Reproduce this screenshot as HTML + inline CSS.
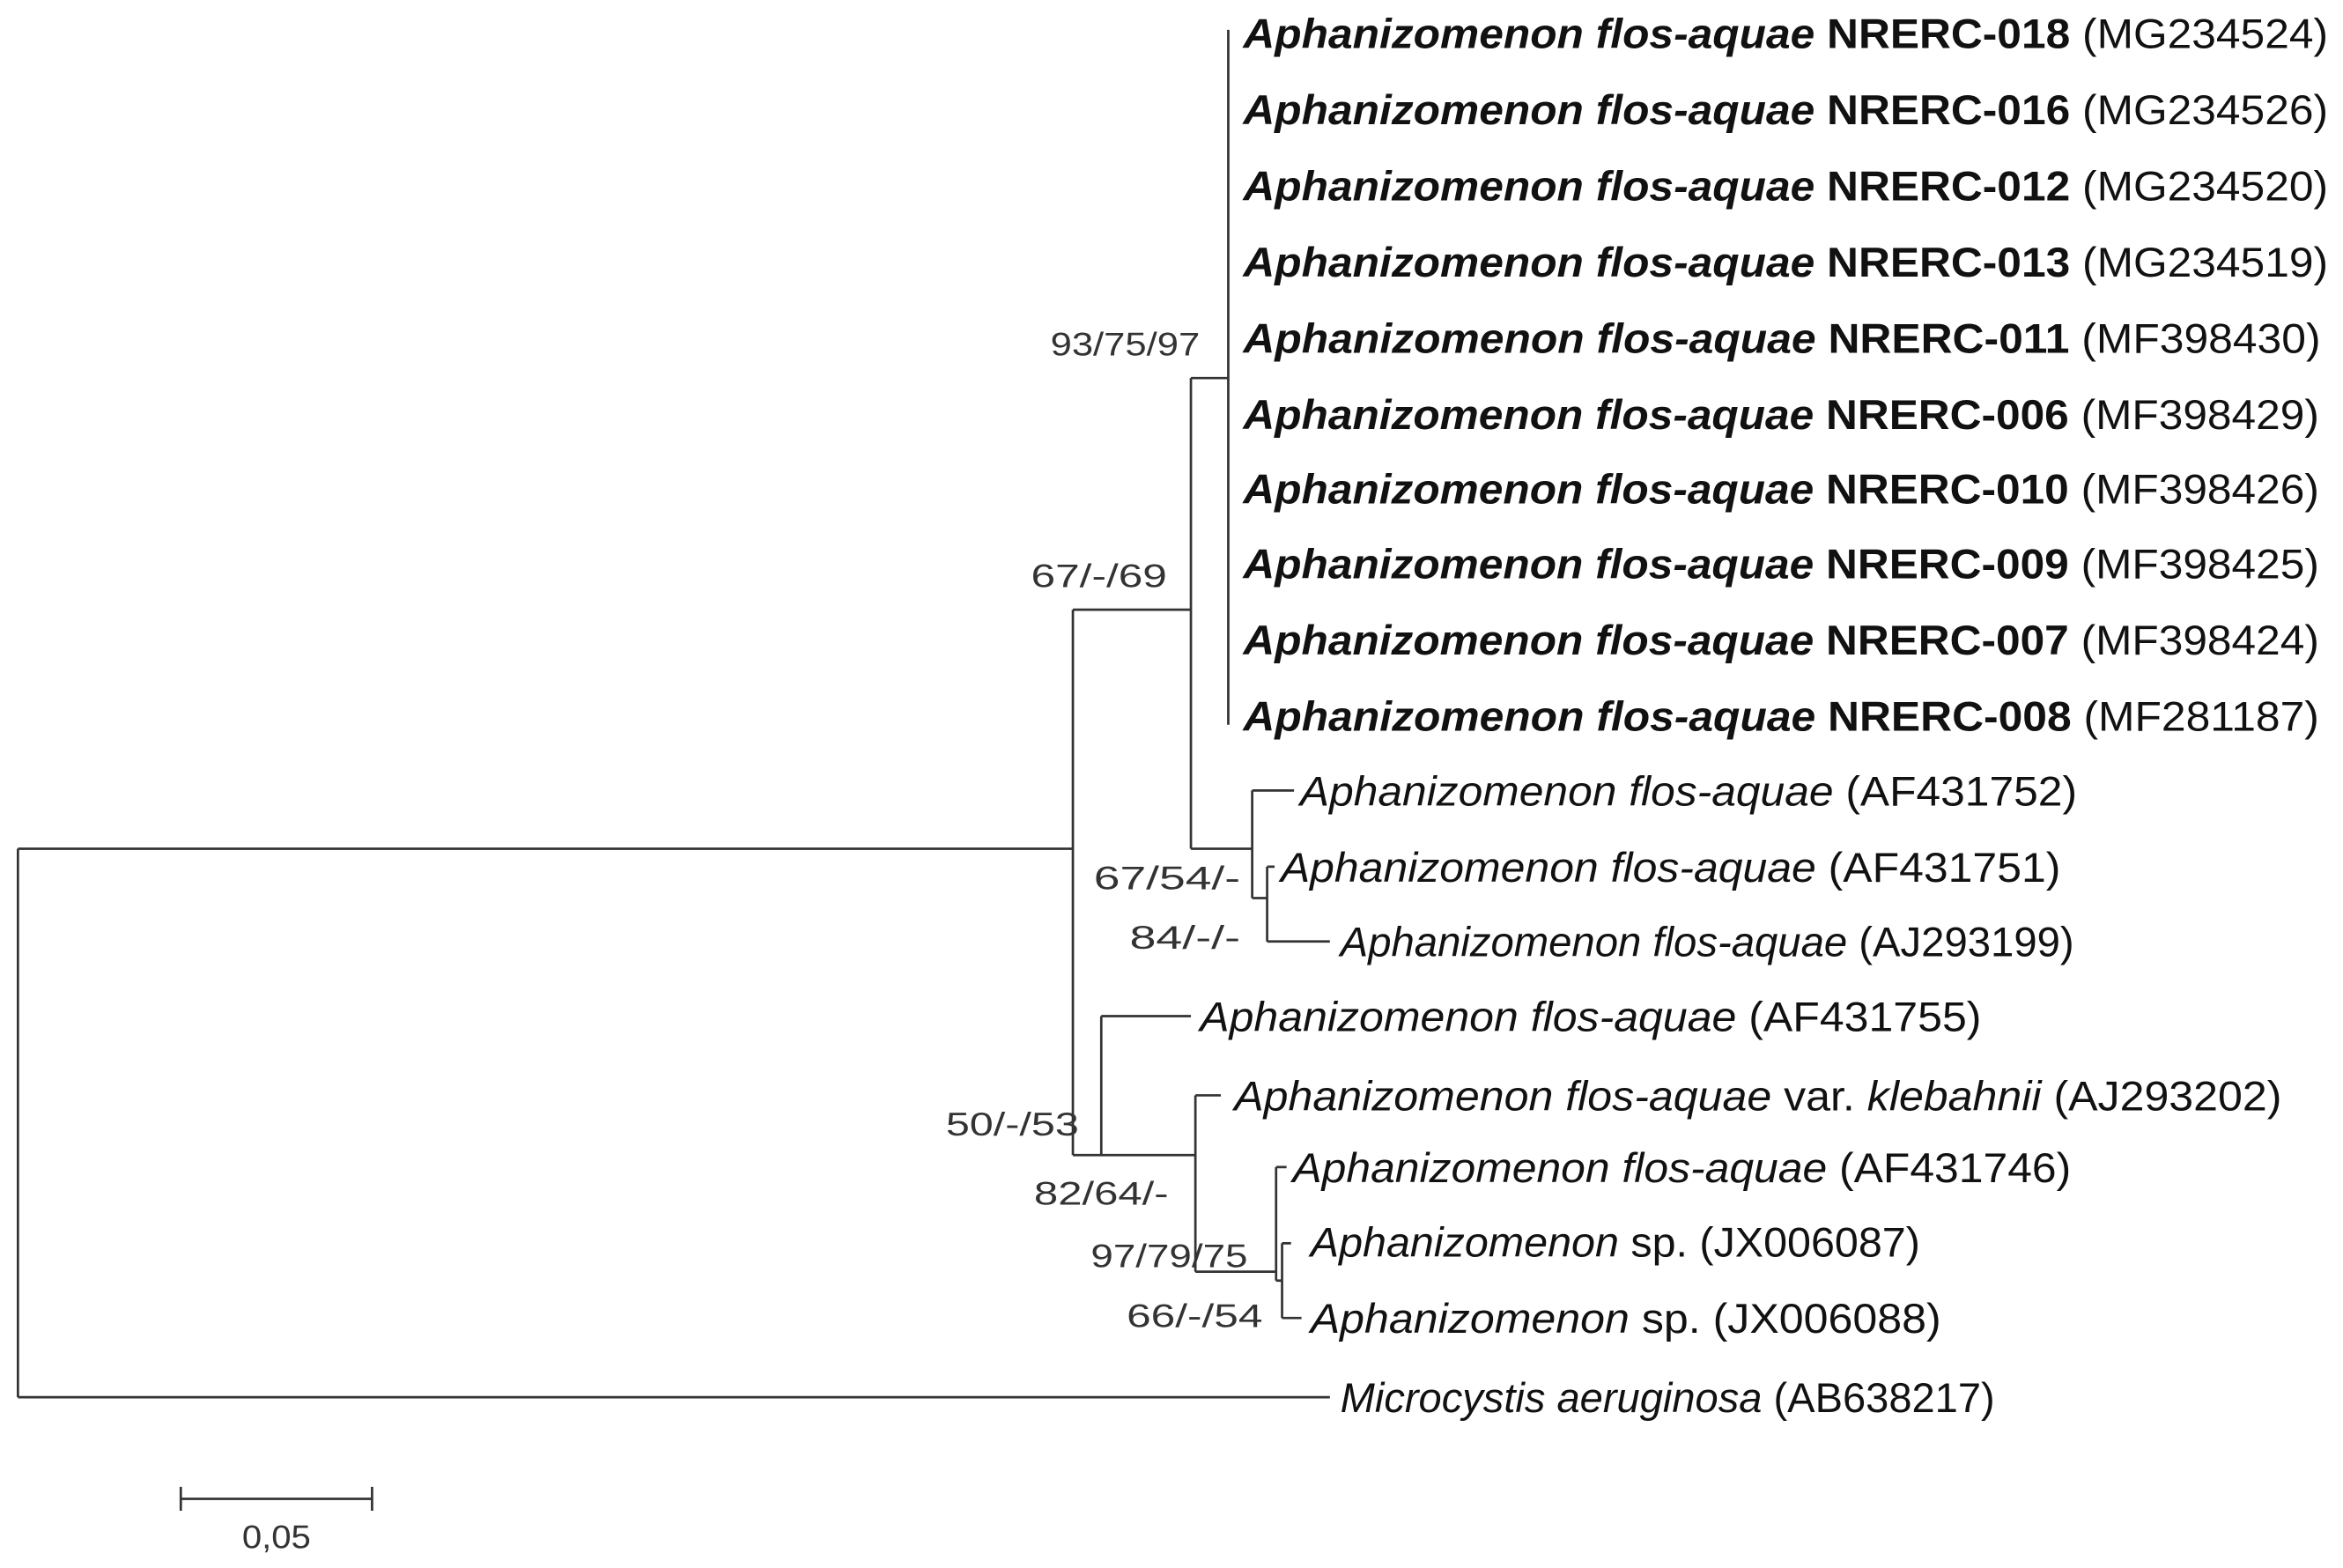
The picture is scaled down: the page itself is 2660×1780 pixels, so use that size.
<!DOCTYPE html>
<html><head><meta charset="utf-8"><style>html,body{margin:0;padding:0;background:#fff}svg{display:block}</style></head>
<body>
<svg width="2660" height="1780" viewBox="0 0 1568 1049.3" preserveAspectRatio="none" xmlns="http://www.w3.org/2000/svg">
<g stroke="#333" stroke-width="1.6" fill="none">
<path d="M12,568V935M12,568H718M12,935H890"/>
<path d="M718,408V773M718,408H797M797,253V568M797,253H822M822,20V485"/>
<path d="M797,568H838M838,529V601M838,529H866M838,601H848M848,580V630M848,580H853M848,630H890"/>
<path d="M718,773H737M737,680V773M737,680H797M737,773H800M800,733V851M800,733H817M800,851H854M854,781V857M854,781H861M854,857H858M858,832V882M858,832H864M858,882H871"/>
<path d="M121,1003H249M121,995V1011M249,995V1011"/>
</g>
<g font-family="'Liberation Sans',Arial,sans-serif" font-size="28" fill="#111">
<text x="832" y="32" textLength="726" lengthAdjust="spacingAndGlyphs"><tspan font-weight="bold" font-style="italic">Aphanizomenon flos-aquae</tspan><tspan font-weight="bold"> NRERC-018</tspan> (MG234524)</text>
<text x="832" y="83" textLength="726" lengthAdjust="spacingAndGlyphs"><tspan font-weight="bold" font-style="italic">Aphanizomenon flos-aquae</tspan><tspan font-weight="bold"> NRERC-016</tspan> (MG234526)</text>
<text x="832" y="134" textLength="726" lengthAdjust="spacingAndGlyphs"><tspan font-weight="bold" font-style="italic">Aphanizomenon flos-aquae</tspan><tspan font-weight="bold"> NRERC-012</tspan> (MG234520)</text>
<text x="832" y="185" textLength="726" lengthAdjust="spacingAndGlyphs"><tspan font-weight="bold" font-style="italic">Aphanizomenon flos-aquae</tspan><tspan font-weight="bold"> NRERC-013</tspan> (MG234519)</text>
<text x="832" y="236" textLength="721" lengthAdjust="spacingAndGlyphs"><tspan font-weight="bold" font-style="italic">Aphanizomenon flos-aquae</tspan><tspan font-weight="bold"> NRERC-011</tspan> (MF398430)</text>
<text x="832" y="287" textLength="720" lengthAdjust="spacingAndGlyphs"><tspan font-weight="bold" font-style="italic">Aphanizomenon flos-aquae</tspan><tspan font-weight="bold"> NRERC-006</tspan> (MF398429)</text>
<text x="832" y="337" textLength="720" lengthAdjust="spacingAndGlyphs"><tspan font-weight="bold" font-style="italic">Aphanizomenon flos-aquae</tspan><tspan font-weight="bold"> NRERC-010</tspan> (MF398426)</text>
<text x="832" y="387" textLength="720" lengthAdjust="spacingAndGlyphs"><tspan font-weight="bold" font-style="italic">Aphanizomenon flos-aquae</tspan><tspan font-weight="bold"> NRERC-009</tspan> (MF398425)</text>
<text x="832" y="438" textLength="720" lengthAdjust="spacingAndGlyphs"><tspan font-weight="bold" font-style="italic">Aphanizomenon flos-aquae</tspan><tspan font-weight="bold"> NRERC-007</tspan> (MF398424)</text>
<text x="832" y="489" textLength="720" lengthAdjust="spacingAndGlyphs"><tspan font-weight="bold" font-style="italic">Aphanizomenon flos-aquae</tspan><tspan font-weight="bold"> NRERC-008</tspan> (MF281187)</text>
<text x="870" y="539" textLength="520" lengthAdjust="spacingAndGlyphs"><tspan font-style="italic">Aphanizomenon flos-aquae</tspan> (AF431752)</text>
<text x="857" y="590" textLength="522" lengthAdjust="spacingAndGlyphs"><tspan font-style="italic">Aphanizomenon flos-aquae</tspan> (AF431751)</text>
<text x="897" y="640" textLength="491" lengthAdjust="spacingAndGlyphs"><tspan font-style="italic">Aphanizomenon flos-aquae</tspan> (AJ293199)</text>
<text x="803" y="690" textLength="523" lengthAdjust="spacingAndGlyphs"><tspan font-style="italic">Aphanizomenon flos-aquae</tspan> (AF431755)</text>
<text x="826" y="743" textLength="701" lengthAdjust="spacingAndGlyphs"><tspan font-style="italic">Aphanizomenon flos-aquae</tspan> var. <tspan font-style="italic">klebahnii</tspan> (AJ293202)</text>
<text x="865" y="791" textLength="521" lengthAdjust="spacingAndGlyphs"><tspan font-style="italic">Aphanizomenon flos-aquae</tspan> (AF431746)</text>
<text x="877" y="841" textLength="408" lengthAdjust="spacingAndGlyphs"><tspan font-style="italic">Aphanizomenon</tspan> sp. (JX006087)</text>
<text x="877" y="892" textLength="422" lengthAdjust="spacingAndGlyphs"><tspan font-style="italic">Aphanizomenon</tspan> sp. (JX006088)</text>
<text x="897" y="945" textLength="438" lengthAdjust="spacingAndGlyphs"><tspan font-style="italic">Microcystis aeruginosa</tspan> (AB638217)</text>
</g>
<g font-family="'Liberation Sans',Arial,sans-serif" font-size="22" fill="#333">
<text x="703" y="238" textLength="100" lengthAdjust="spacingAndGlyphs">93/75/97</text>
<text x="690" y="393" textLength="91" lengthAdjust="spacingAndGlyphs">67/-/69</text>
<text x="732" y="595" textLength="98" lengthAdjust="spacingAndGlyphs">67/54/-</text>
<text x="756" y="635" textLength="74" lengthAdjust="spacingAndGlyphs">84/-/-</text>
<text x="633" y="760" textLength="89" lengthAdjust="spacingAndGlyphs">50/-/53</text>
<text x="692" y="806" textLength="90" lengthAdjust="spacingAndGlyphs">82/64/-</text>
<text x="730" y="848" textLength="105" lengthAdjust="spacingAndGlyphs">97/79/75</text>
<text x="754" y="888" textLength="91" lengthAdjust="spacingAndGlyphs">66/-/54</text>
<text x="162" y="1036" textLength="46" lengthAdjust="spacingAndGlyphs">0,05</text>
</g>
</svg>
</body></html>
